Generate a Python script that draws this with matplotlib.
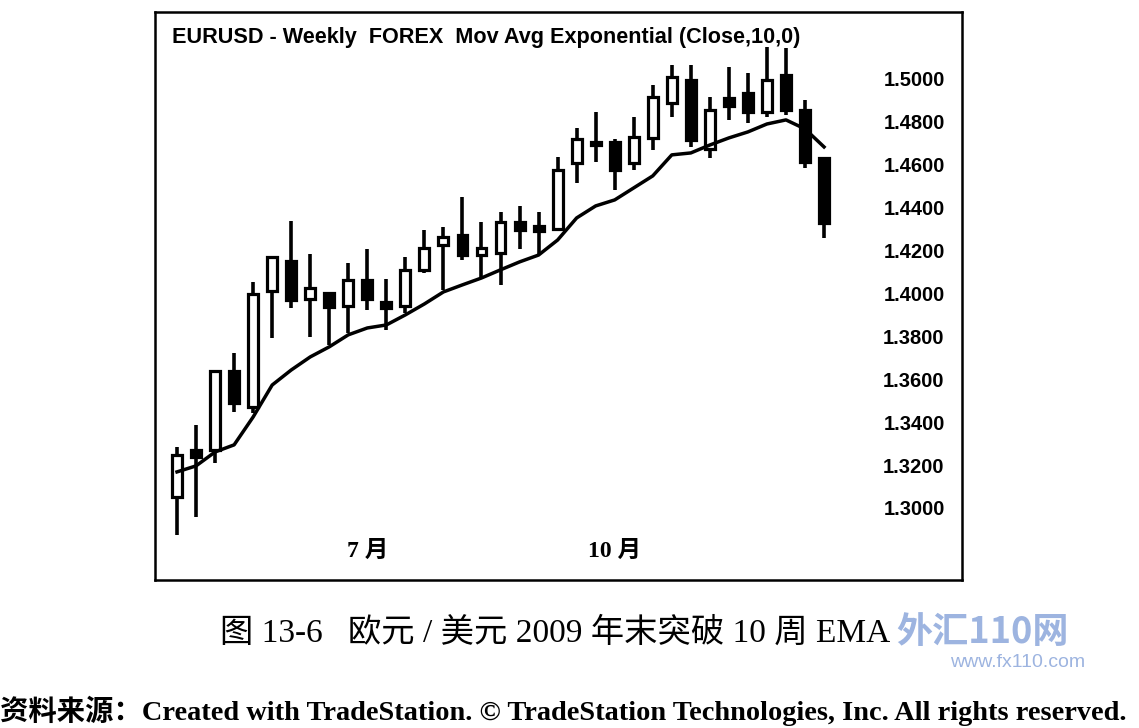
import matplotlib
matplotlib.use('Agg')
import matplotlib.pyplot as plt
import numpy as np

# weekly EURUSD candles
opens = [1.3051, 1.3270, 1.3270, 1.3639, 1.3471, 1.4012, 1.4152, 1.3974, 1.4002, 1.3942,
         1.4063, 1.3960, 1.3942, 1.4110, 1.4226, 1.4273, 1.4179, 1.4189, 1.4333, 1.4315,
         1.4301, 1.4608, 1.4692, 1.4706, 1.4608, 1.4725, 1.4888, 1.4995, 1.4674, 1.4911,
         1.4935, 1.4846, 1.5019, 1.4855, 1.4632]
highs = [1.3284, 1.3387, 1.3643, 1.3723, 1.4054, 1.4175, 1.4338, 1.4184, 1.4007, 1.4142,
         1.4207, 1.4068, 1.4170, 1.4296, 1.4310, 1.4450, 1.4333, 1.4380, 1.4408, 1.4380,
         1.4636, 1.4772, 1.4846, 1.4720, 1.4823, 1.4972, 1.5065, 1.5065, 1.4916, 1.5056,
         1.5028, 1.5149, 1.5145, 1.4902, 1.4635]
lows = [1.2874, 1.2958, 1.3210, 1.3448, 1.3443, 1.3793, 1.3932, 1.3797, 1.3760, 1.3816,
        1.3923, 1.3830, 1.3909, 1.4096, 1.4016, 1.4156, 1.4077, 1.4040, 1.4207, 1.4179,
        1.4296, 1.4515, 1.4613, 1.4483, 1.4576, 1.4669, 1.4823, 1.4683, 1.4632, 1.4809,
        1.4795, 1.4823, 1.4832, 1.4585, 1.4259]
closes = [1.3247, 1.3238, 1.3639, 1.3490, 1.3998, 1.4170, 1.3970, 1.4026, 1.3937, 1.4063,
          1.3974, 1.3932, 1.4110, 1.4212, 1.4263, 1.4179, 1.4212, 1.4333, 1.4296, 1.4291,
          1.4576, 1.4720, 1.4706, 1.4576, 1.4730, 1.4916, 1.5009, 1.4716, 1.4855, 1.4874,
          1.4846, 1.4995, 1.4855, 1.4613, 1.4329]
ema10 = [1.3168, 1.3196, 1.3261, 1.3294, 1.3424, 1.3573, 1.3643, 1.3704, 1.3751, 1.3807,
         1.3839, 1.3853, 1.3900, 1.3951, 1.4007, 1.4040, 1.4072, 1.4110, 1.4147, 1.4179,
         1.4249, 1.4352, 1.4408, 1.4436, 1.4492, 1.4548, 1.4646, 1.4655, 1.4692, 1.4725,
         1.4753, 1.4790, 1.4809, 1.4767, 1.4683]

y_ticks = [1.30, 1.32, 1.34, 1.36, 1.38, 1.40, 1.42, 1.44, 1.46, 1.48, 1.50]
month_pos = [10, 23]
month_labels = ['7 月', '10 月']

title = 'EURUSD - Weekly  FOREX  Mov Avg Exponential (Close,10,0)'
caption = '图 13-6   欧元 / 美元 2009 年末突破 10 周 EMA'
source = '资料来源：Created with TradeStation. © TradeStation Technologies, Inc. All rights reserved.'

serif_cjk = ['Liberation Serif', 'Noto Sans CJK SC', 'DejaVu Sans']

fig = plt.figure(figsize=(11.39, 7.28), dpi=100)
ax = fig.add_axes([0.1361, 0.2033, 0.7085, 0.7802])

idx = np.arange(len(opens))
o = np.array(opens)
c = np.array(closes)

# wicks then bodies (hollow = up week, filled = down week)
ax.vlines(idx, lows, highs, color='black', linewidth=2.6, zorder=1)
up = c >= o
ax.bar(idx[up], (c - o)[up], bottom=o[up], width=0.52,
       facecolor='white', edgecolor='black', linewidth=2.3, zorder=2)
ax.bar(idx[~up], (o - c)[~up], bottom=c[~up], width=0.52,
       facecolor='black', edgecolor='black', linewidth=2.3, zorder=2)

ax.plot(idx, ema10, color='black', linewidth=2.5, zorder=3)

ax.set_xlim(-1.156, 41.25)
ax.set_ylim(1.2664, 1.5312)

ax.set_xticks([])
ax.yaxis.tick_right()
ax.set_yticks(y_ticks)
ax.set_yticklabels(['%.4f' % v for v in y_ticks])
ax.tick_params(axis='y', length=0, pad=-12.5, labelsize=14.5)
for lab in ax.get_yticklabels():
    lab.set_horizontalalignment('right')
    lab.set_fontweight('bold')
    lab.set_family('Liberation Sans')

for sp in ax.spines.values():
    sp.set_linewidth(1.8)

ax.text(0.021, 0.955, title, transform=ax.transAxes, fontsize=15.6,
        fontweight='bold', family='Liberation Sans', va='center', ha='left')

for p, lab in zip(month_pos, month_labels):
    ax.text(p, 0.05, lab, transform=ax.get_xaxis_transform(), ha='center',
            va='center', fontsize=17, fontweight='bold', family=serif_cjk)

fig.text(0.487, 0.131, caption, ha='center', va='center', fontsize=24,
         family=serif_cjk)
# watermark
fig.text(0.787, 0.131, '外汇110网', ha='left', va='center', fontsize=26,
         fontweight='bold', style='italic', color='#9db4e0',
         family=['Noto Sans CJK SC', 'DejaVu Sans'])
fig.text(0.953, 0.09, 'www.fx110.com', ha='right', va='center', fontsize=14,
         color='#9db4e0', family='Liberation Sans')

fig.text(0.0, 0.023, source, ha='left', va='center', fontsize=20.4,
         fontweight='bold', family=serif_cjk)

fig.savefig('out.png', dpi=100)
